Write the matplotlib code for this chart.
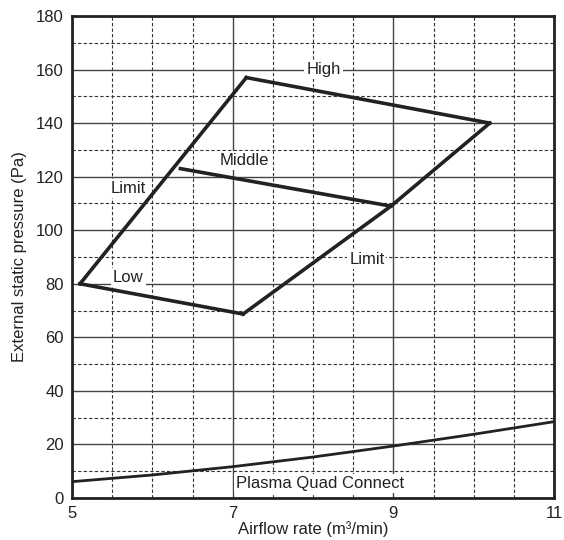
import matplotlib
matplotlib.use('Agg')
import matplotlib.pyplot as plt
import matplotlib.ticker as mticker

plt.rcParams['font.family'] = ['Liberation Sans', 'DejaVu Sans']

# fan operating area (airflow m3/min, pressure Pa)
limit_left_x = [5.1, 7.17]
limit_left_y = [80, 157]
high_x = [7.17, 10.2]
high_y = [157, 140]
limit_right_x = [7.13, 8.97, 10.2]
limit_right_y = [68.7, 109, 140]
middle_x = [6.35, 8.97]
middle_y = [123, 109]
low_x = [5.1, 7.13]
low_y = [80, 68.7]

# Plasma Quad Connect curve
plasma_x = [5, 6, 7, 8, 9, 10, 11]
plasma_y = [6.1, 8.6, 11.7, 15.3, 19.4, 23.8, 28.5]

labels = [('High', 8.13, 160), ('Middle', 7.15, 126), ('Limit', 5.7, 115.4),
          ('Low', 5.7, 82.5), ('Limit', 8.67, 88.9), ('Plasma Quad Connect', 8.09, 5.6)]

fig = plt.figure(figsize=(5.64, 5.40), dpi=100)
ax = fig.add_axes([72/564, 42/540, 482/564, 482/540])

ax.set_xlim(5, 11)
ax.set_ylim(0, 180)
ax.xaxis.set_major_locator(mticker.FixedLocator([5, 7, 9, 11]))
ax.xaxis.set_minor_locator(mticker.MultipleLocator(0.5))
ax.yaxis.set_major_locator(mticker.MultipleLocator(20))
ax.yaxis.set_minor_locator(mticker.MultipleLocator(10))
ax.grid(which='major', color='#444444', linewidth=1.0)
ax.grid(which='minor', color='#333333', linewidth=0.8, linestyle=(0, (3, 2)))
ax.set_axisbelow(True)
ax.tick_params(which='both', length=0, labelsize=12, pad=6, colors='#222222')
for s in ax.spines.values():
    s.set_linewidth(2)
    s.set_color('#222222')

lw = 2.6
for xs, ys in [(limit_left_x, limit_left_y), (high_x, high_y), (limit_right_x, limit_right_y),
               (middle_x, middle_y), (low_x, low_y)]:
    ax.plot(xs, ys, color='#222222', linewidth=lw, solid_joinstyle='miter', zorder=4)
ax.plot(plasma_x, plasma_y, color='#222222', linewidth=2.0, zorder=4)

for txt, x, y in labels:
    ax.text(x, y, txt, ha='center', va='center', fontsize=12, color='#222222', zorder=3,
            bbox=dict(facecolor='white', edgecolor='none', pad=1.5))

ax.set_xlabel('Airflow rate (m\u00b3/min)', fontsize=12, color='#222222', labelpad=0)
ax.set_ylabel('External static pressure (Pa)', fontsize=12, color='#222222', labelpad=6)

fig.savefig('out.png', dpi=100, facecolor='white')
